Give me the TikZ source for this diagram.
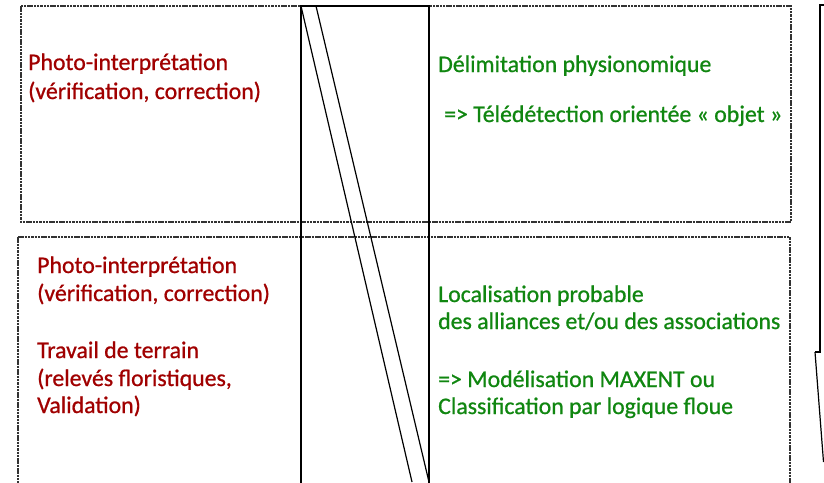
\documentclass[tikz,border=0pt]{standalone}
\usepackage{fontspec}
\setmainfont{Carlito}[RawFeature={embolden=0.8}]
\definecolor{txtred}{RGB}{160,0,0}
\definecolor{txtgreen}{RGB}{16,134,16}
\definecolor{dotgray}{RGB}{50,50,50}
\begin{document}
\begin{tikzpicture}[x=1pt,y=-1pt,
  dotbox/.style={draw=dotgray,line width=1.5pt,dash pattern=on 2.5pt off 0.8pt},
  solidline/.style={draw=black,line width=1.5pt},
  diagline/.style={draw=black,line width=1.2pt},
  redtxt/.style={anchor=base west,inner sep=0pt,text=txtred,font=\fontsize{23.8}{28}\selectfont},
  greentxt/.style={anchor=base west,inner sep=0pt,text=txtgreen,font=\fontsize{23.8}{28}\selectfont}]
\useasboundingbox (0,0) rectangle (824,482);
% dotted frames
\draw[dotbox] (21,6) rectangle (791,222);
\draw[dotbox] (18,237) -- (790,237) -- (790,490);
\draw[dotbox] (18,237) -- (18,490);
% central band
\coordinate (cTL) at (301,6);
\coordinate (cTR) at (429,6);
\coordinate (cBL) at (301,490);
\coordinate (cBR) at (429,490);
\draw[solidline] (cBL) -- (cTL) -- (cTR) -- (cBR);
\coordinate (d1a) at (301,6);
\coordinate (d1b) at (412,482);
\coordinate (d2a) at (316,6);
\coordinate (d2b) at (429,482);
\draw[diagline] (d1a) -- (d1b);
\draw[diagline] (d2a) -- (d2b);
% right callout edge
\coordinate (r1) at (830,5);
\coordinate (r2) at (820,5);
\coordinate (r3) at (820,352);
\coordinate (r4) at (815,352);
\coordinate (r5) at (823.5,462);
\draw[solidline] (r1) -- (r2) -- (r3) -- (r4);
\draw[diagline] (r4) -- (r5);
% texts top
\node[redtxt] (t1) at (28,70) {Photo-interprétation};
\node[redtxt] (t2) at (28,99) {(vérification, correction)};
\node[greentxt] (t3) at (438,72) {Délimitation physionomique};
\node[greentxt] (t4) at (444,122) {=> Télédétection orientée « objet »};
% texts bottom
\node[redtxt] (b1) at (37,273) {Photo-interprétation};
\node[redtxt] (b2) at (37,301) {(vérification, correction)};
\node[redtxt] (b3) at (37,358) {Travail de terrain};
\node[redtxt] (b4) at (37,386) {(relevés floristiques,};
\node[redtxt] (b5) at (37,413) {Validation)};
\node[greentxt] (g1) at (438,302) {Localisation probable};
\node[greentxt] (g2) at (438,329) {des alliances et/ou des associations};
\node[greentxt] (g3) at (438,387) {=> Modélisation MAXENT ou};
\node[greentxt] (g4) at (438,414) {Classification par logique floue};
\end{tikzpicture}
\end{document}
